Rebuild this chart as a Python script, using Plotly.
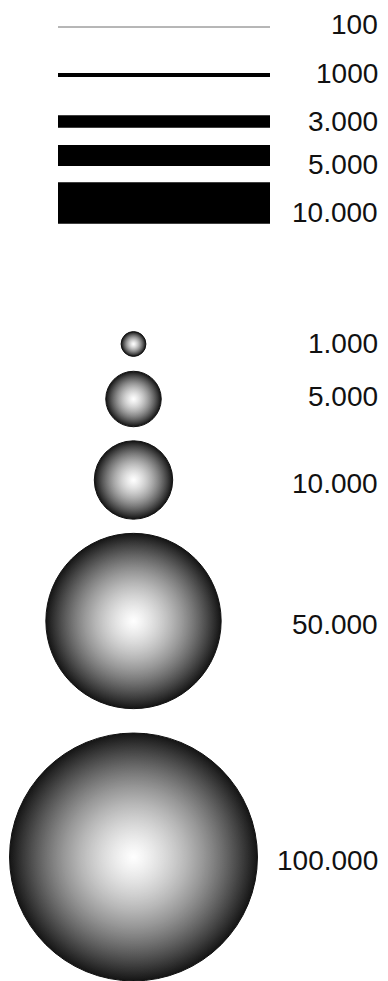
import plotly.graph_objects as go

# line legend: flow values and their labels
line_values = [100, 1000, 3000, 5000, 10000]
line_labels = ["100", "1000", "3.000", "5.000", "10.000"]

# bubble legend: values and their labels
bubble_values = [1000, 5000, 10000, 50000, 100000]
bubble_labels = ["1.000", "5.000", "10.000", "50.000", "100.000"]

# layout slots (pixel space, y grows downwards)
W, H = 388, 981
LINE_X0, LINE_X1 = 58, 270
LINE_Y = [27, 75, 121.5, 155.5, 203]
LINE_LABEL_Y = [24, 73, 121, 164, 212]
BUBBLE_X = 133.5
BUBBLE_Y = [344, 399, 480, 621, 857]
BUBBLE_LABEL_Y = [343, 396, 483, 624, 860]
LABEL_X = 380


def line_width(v):
    # stroke width scale: ~1px per 240 units
    return max(v / 240, 1)


def bubble_size(v):
    # marker diameter scale (area proportional)
    return 2 * 0.392 * v**0.5


fig = go.Figure()

for v, y in zip(line_values, LINE_Y):
    fig.add_trace(
        go.Scatter(
            x=[LINE_X0, LINE_X1],
            y=[y, y],
            mode="lines",
            line=dict(color="black" if v > 100 else "#6e6e6e", width=line_width(v)),
            hoverinfo="skip",
        )
    )

sizes = [bubble_size(v) for v in bubble_values]

# plotly's radial gradient runs from gradient.color (centre) to marker.color (edge)
fig.add_trace(
    go.Scatter(
        x=[BUBBLE_X] * len(bubble_values),
        y=BUBBLE_Y,
        mode="markers",
        marker=dict(
            size=sizes,
            sizemode="diameter",
            color="#151515",
            gradient=dict(type="radial", color="white"),
            line=dict(color="#111111", width=1),
            opacity=1,
        ),
        hoverinfo="skip",
    )
)
# soft white glow on top so the shading stays light further out, like a lit sphere
fig.add_trace(
    go.Scatter(
        x=[BUBBLE_X] * len(bubble_values),
        y=BUBBLE_Y,
        mode="markers",
        marker=dict(
            size=[s - 2 for s in sizes],
            sizemode="diameter",
            color="rgba(255,255,255,0)",
            gradient=dict(type="radial", color="rgba(255,255,255,0.7)"),
            line=dict(width=0),
        ),
        hoverinfo="skip",
    )
)

for text, y in zip(line_labels + bubble_labels, LINE_LABEL_Y + BUBBLE_LABEL_Y):
    fig.add_annotation(
        x=LABEL_X,
        y=y,
        text=text,
        showarrow=False,
        xanchor="right",
        yanchor="middle",
        font=dict(family="Liberation Sans, Arial, sans-serif", size=28, color="#111111"),
    )

fig.update_layout(
    width=W,
    height=H,
    margin=dict(l=0, r=0, t=0, b=0),
    showlegend=False,
    plot_bgcolor="white",
    paper_bgcolor="white",
    xaxis=dict(range=[0, W], visible=False, fixedrange=True),
    yaxis=dict(range=[H, 0], visible=False, fixedrange=True),
)

fig.write_html(
    "out.html",
    config={"displayModeBar": False},
    post_script="document.body.style.margin='0';",
)
